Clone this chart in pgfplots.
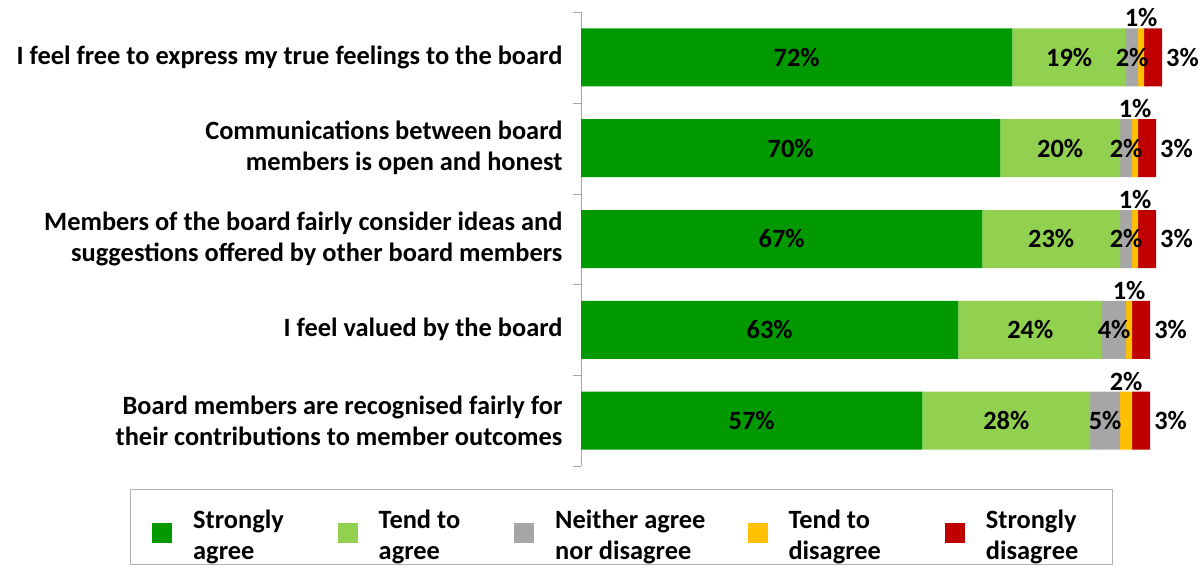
\documentclass[border=0pt]{standalone}
\usepackage{fontspec}
\setmainfont{Carlito}
\usepackage{pgfplots}
\usepackage{pgfplotstable}
\pgfplotsset{compat=1.18}

\definecolor{sagree}{HTML}{009900}
\definecolor{tagree}{HTML}{92D050}
\definecolor{neither}{HTML}{A6A6A6}
\definecolor{tdis}{HTML}{FFC000}
\definecolor{sdis}{HTML}{C00000}
\newcommand{\lab}{\fontsize{26.4bp}{31bp}\selectfont\bfseries}
\newcommand{\two}[2]{\begin{tabular}{@{}l@{}}#1\\#2\end{tabular}}

% one row per statement, values in percent
\pgfplotstableread{
cat sa ta ne td sd
0   72 19 2  1  3
1   70 20 2  1  3
2   67 23 2  1  3
3   63 24 4  1  3
4   57 28 5  2  3
}\survey

\begin{document}
\begin{tikzpicture}
\begin{axis}[
  at={(581bp,-12bp)}, anchor=north west,
  scale only axis, width=599bp, height=454bp,
  xbar stacked, bar width=58bp,
  xmin=0, xmax=100, ymin=-0.5, ymax=4.5, y dir=reverse,
  axis x line=none, axis y line*=left,
  y axis line style={draw=gray!70},
  ytick={0,...,4},
  yticklabels={
    I feel free to express my true feelings to the board,
    {Communications between board\\members is open and honest},
    {Members of the board fairly consider ideas and\\suggestions offered by other board members},
    I feel valued by the board,
    {Board members are recognised fairly for\\their contributions to member outcomes}},
  minor ytick={-0.5,0.5,...,4.5},
  major tick length=0pt, minor tick length=8bp, tick align=outside,
  minor tick style={gray!70},
  yticklabel style={align=right, font=\lab, xshift=-15bp},
  clip=false,
  /pgf/number format/assume math mode=true,
  point meta=rawx,
  visualization depends on={rawx \as \rawxv},
  nodes near coords={\pgfmathprintnumber{\pgfplotspointmeta}\%},
  legend columns=5,
  legend cell align=left,
  legend style={at={(-0.7529,-0.0507)}, anchor=north west,
    draw=gray!60, font=\lab, inner xsep=22bp, inner ysep=16bp,
    /tikz/every odd column/.append style={column sep=19bp},
    /tikz/column 2/.append style={column sep=52bp},
    /tikz/column 4/.append style={column sep=52bp},
    /tikz/column 6/.append style={column sep=40bp},
    /tikz/column 8/.append style={column sep=62bp}},
  legend image code/.code={\fill[#1,draw=none] (0bp,-16bp) rectangle (20bp,4bp);},
]
% labels of stacked segments sit at the middle of each segment
\addplot[fill=sagree, draw=none,
  every node near coord/.style={font=\lab, text=black, anchor=center}]
  table[x=sa, y=cat] {\survey};
\addlegendentry{\two{Strongly}{agree}}
\addplot[fill=tagree, draw=none,
  every node near coord/.style={font=\lab, text=black, anchor=center}]
  table[x=ta, y=cat] {\survey};
\addlegendentry{\two{Tend to}{agree}}
\addplot[fill=neither, draw=none,
  every node near coord/.style={font=\lab, text=black, anchor=center}]
  table[x=ne, y=cat] {\survey};
\addlegendentry{\two{Neither agree}{nor disagree}}
\addplot[fill=tdis, draw=none,
  every node near coord/.style={font=\lab, text=black, anchor=south,
    inner sep=1bp, yshift=29bp}]
  table[x=td, y=cat] {\survey};
\addlegendentry{\two{Tend to}{disagree}}
\addplot[fill=sdis, draw=none,
  every node near coord/.style={font=\lab, text=black, anchor=west,
    inner sep=4bp, xshift={\rawxv*3.006pt}}]
  table[x=sd, y=cat] {\survey};
\addlegendentry{\two{Strongly}{disagree}\hspace*{10bp}}
\end{axis}
\pgfresetboundingbox
\path (0,0) rectangle (1204bp,-574bp);
\end{tikzpicture}
\end{document}
